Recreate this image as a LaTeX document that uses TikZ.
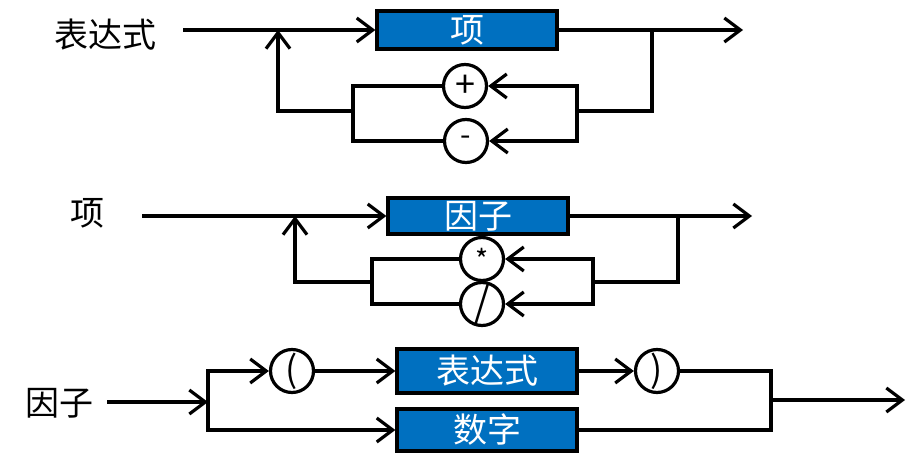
\documentclass[tikz,border=0pt]{standalone}
\usepackage{fontspec}
\setmainfont{Noto Sans CJK SC}
\usetikzlibrary{arrows.meta}
\definecolor{boxblue}{RGB}{0,112,192}

\begin{document}
\begin{tikzpicture}[
x=1pt,y=-1pt,
line width=3.2pt,
lab/.style={
  font=\fontsize{34}{40}\selectfont,
  inner sep=0pt
  },
term/.style={
  draw,
  fill=boxblue,
  text=white,
  minimum width=180pt,
  minimum height=38pt,
  inner sep=0pt,
  font=\fontsize{34}{40}\selectfont
  },
op/.style={
  draw,
  circle,
  fill=white,
  minimum size=43pt,
  inner sep=0pt,
  font=\fontsize{36}{40}\selectfont
  },
>={Straight Barb[length=16pt,width=24pt]}
]
\useasboundingbox (0,0) rectangle (917,465);

% 表达式
\node[lab] (e-lab) at (105,35) {表达式};
\node[term] (t1) at (467,30) {项};
\node[op] (plus) at (465,86) {+};
\node[op,font=\fontsize{30}{34}\selectfont] (minus) at (466,141) {-};
\coordinate (e-in) at (183,30);
\coordinate (e-out) at (743,30);
\coordinate (e-j) at (652,30);
\coordinate (e-r) at (577,111);
\coordinate (e-l) at (353,111);
\coordinate (e-b) at (278,30);
\draw[->] (e-in) -- (t1);
\draw[->] (t1) -- (e-out);
\draw (e-j) |- (e-r);
\foreach \o in {plus,minus}
{
  \draw[->] (e-r) |- (\o);
  \draw (\o) -| (e-l);
}
\draw[->] (e-l) -| (e-b);

% 项
\node[lab] (t-lab) at (87,213) {项};
\node[term,minimum height=36pt] (f1) at (478,216) {因子};
\node[op,font=\fontsize{28}{32}\selectfont] (times) at (482,259) {*};
\node[op,font=\fontsize{40}{44}\selectfont] (div) at (482,304) {/};
\coordinate (t-in) at (142,216);
\coordinate (t-out) at (752,216);
\coordinate (t-j) at (678,216);
\coordinate (t-r) at (593,282);
\coordinate (t-l) at (372,282);
\coordinate (t-b) at (295,216);
\draw[->] (t-in) -- (f1);
\draw[->] (f1) -- (t-out);
\draw (t-j) |- (t-r);
\foreach \o in {times,div}
{
  \draw[->] (t-r) |- (\o);
  \draw (\o) -| (t-l);
}
\draw[->] (t-l) -| (t-b);

% 因子
\node[lab] (f-lab) at (59,403) {因子};
\node[term,minimum height=44pt] (e1) at (487,371) {表达式};
\node[term,minimum height=42pt] (num) at (487,430) {数字};
\node[op] (lp) at (292,371) {(};
\node[op] (rp) at (657,371) {)};
\coordinate (f-in) at (107,402);
\coordinate (f-j) at (208,402);
\coordinate (f-r) at (771,400);
\coordinate (f-out) at (905,400);
\draw[->] (f-in) -- (f-j);
\draw[->] (f-j) |- (lp);
\draw[->] (f-j) |- (num);
\draw[->] (lp) -- (e1);
\draw[->] (e1) -- (rp);
\draw (rp) -| (f-r);
\draw (num) -| (f-r);
\draw[->] (f-r) -- (f-out);
\end{tikzpicture}
\end{document}
